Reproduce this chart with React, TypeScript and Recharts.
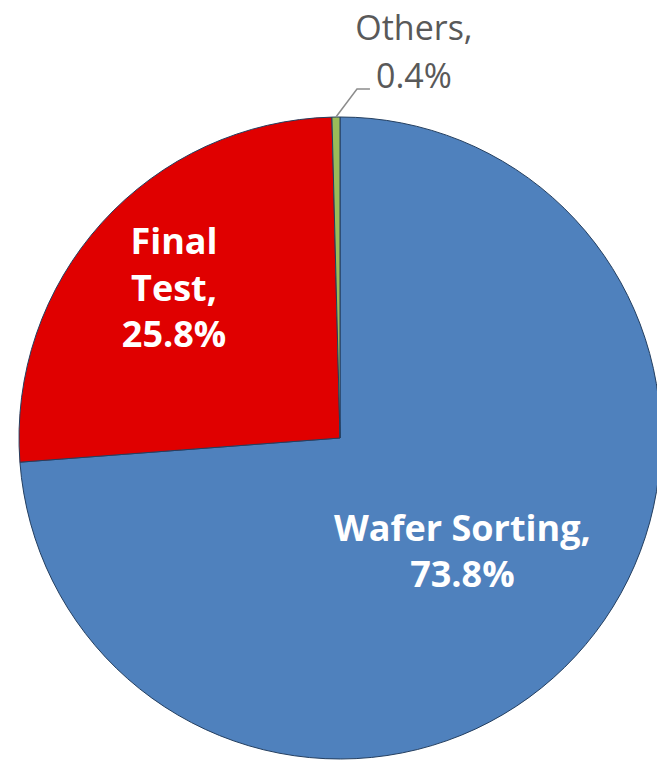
import { PieChart, Pie, Cell } from 'recharts';

const categories = ['Wafer Sorting', 'Final Test', 'Others'];
const shares = [73.8, 25.8, 0.4];
const sliceColors = ['#4F81BD', '#E00000', '#9BBB59'];

const data = categories.map((name, i) => ({ name, value: shares[i] }));

const RAD = Math.PI / 180;

// where each label sits, as a fraction of the radius
const labelRadius = [0.52, 0.697, 1];
const labelFont = '"Open Sans", Calibri, sans-serif';

function renderLabel(props: any) {
  const { cx, cy, midAngle, outerRadius, index } = props;
  const name = categories[index];
  const pct = `${shares[index].toFixed(1)}%`;

  if (index === 2) {
    // leader line out of the top for the tiny slice
    const sx = cx + outerRadius * Math.cos(-midAngle * RAD);
    const sy = cy + outerRadius * Math.sin(-midAngle * RAD);
    const ex = sx + 21;
    const ey = sy - 28;
    const tx = ex + 57;
    return (
      <g>
        <polyline
          points={`${sx},${sy} ${ex},${ey} ${ex + 13},${ey}`}
          fill="none"
          stroke="#8c8c8c"
          strokeWidth={1.5}
        />
        <text x={tx} y={ey - 49} textAnchor="middle" fill="#595959" fontSize={34} fontFamily={labelFont}>
          <tspan x={tx} dy={0}>{name},</tspan>
          <tspan x={tx} dy={48}>{pct}</tspan>
        </text>
      </g>
    );
  }

  const r = outerRadius * labelRadius[index];
  const x = cx + r * Math.cos(-midAngle * RAD);
  const y = cy + r * Math.sin(-midAngle * RAD);
  const lines = index === 1 ? ['Final', 'Test,', pct] : [`${name},`, pct];
  const lh = index === 1 ? 46.5 : 46;
  const top = y - ((lines.length - 1) * lh) / 2 + 13;

  return (
    <text x={x} y={top} textAnchor="middle" fill="#ffffff" fontSize={36} fontWeight="bold" fontFamily={labelFont}>
      {lines.map((l, i) => (
        <tspan key={i} x={x} dy={i === 0 ? 0 : lh}>
          {l}
        </tspan>
      ))}
    </text>
  );
}

export default function App() {
  return (
    <div style={{ position: 'absolute', left: 0, top: 0, width: 657, height: 761, background: '#fff' }}>
      <PieChart width={657} height={761} margin={{ top: 0, right: 0, bottom: 0, left: 0 }}>
        <Pie
          data={data}
          dataKey="value"
          nameKey="name"
          cx={340}
          cy={438}
          outerRadius={321}
          startAngle={90}
          endAngle={-270}
          stroke="#243f60"
          strokeWidth={1}
          labelLine={false}
          label={renderLabel}
          isAnimationActive={false}
        >
          {data.map((d, i) => (
            <Cell key={d.name} fill={sliceColors[i]} />
          ))}
        </Pie>
      </PieChart>
    </div>
  );
}
